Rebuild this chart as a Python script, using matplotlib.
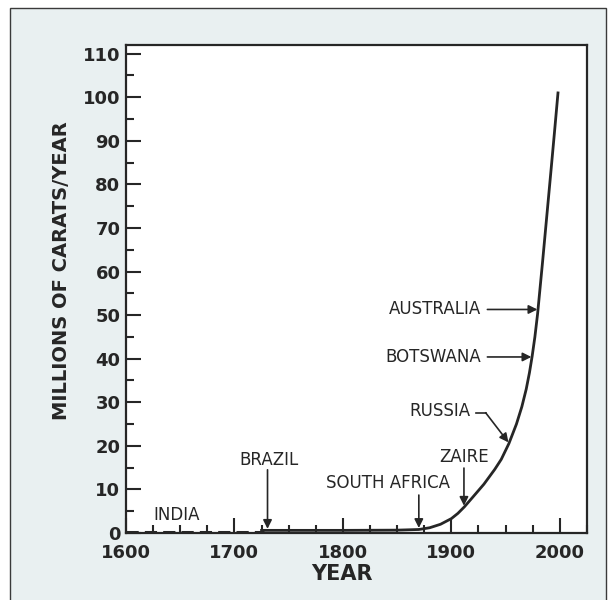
import numpy as np
import matplotlib
matplotlib.use("Agg")
import matplotlib.pyplot as plt
from matplotlib.patches import Rectangle
from matplotlib.ticker import MultipleLocator

# world diamond production, millions of carats per year
years = [1725, 1800, 1850, 1870, 1880, 1890, 1900, 1906, 1912, 1920, 1930,
         1940, 1946, 1953, 1960, 1965, 1969, 1972, 1974.5, 1977, 1979.5,
         1984, 1988, 1992, 1995, 1998.3]
carats = [0.6, 0.6, 0.65, 0.8, 1.2, 2.0, 3.3, 4.5, 6.0, 8.3, 11.2,
          14.6, 16.9, 20.5, 25.0, 29.0, 33.0, 36.8, 40.6, 45.0, 50.3,
          62.0, 72.8, 83.6, 91.8, 101.0]

# India period, drawn dashed along the baseline
india_years = [1600, 1727]
india_carats = [0.15, 0.15]

x_ticks = [1600, 1700, 1800, 1900, 2000]
y_ticks = list(range(0, 111, 10))

# (label, year of discovery) for the vertical arrows
vertical_notes = [("BRAZIL", 1730.5), ("SOUTH AFRICA", 1870.0), ("ZAIRE", 1911.6)]
# (label, production level) for the horizontal arrows
horizontal_notes = [("AUSTRALIA", 51.3), ("BOTSWANA", 40.4)]

ink = "#262626"

fig = plt.figure(figsize=(6.13, 6.0), dpi=100)
fig.patch.set_facecolor("white")
fig.add_artist(Rectangle((10 / 613, -0.01), 596 / 613, 1 - 8 / 600 + 0.01,
                         transform=fig.transFigure, facecolor="#e9f0f1",
                         edgecolor="#3a3a3a", lw=1.0, zorder=0))

ax = fig.add_axes([0.2055, 0.1117, 0.752, 0.8133])
ax.set_facecolor("white")

ax.plot(years, carats, color=ink, lw=2.0, solid_joinstyle="round", zorder=3)
ax.plot(india_years, india_carats, color=ink, lw=2.2, dashes=(4, 2), zorder=3)

ax.set_xlim(1600, 2025)
ax.set_ylim(0, 112)
ax.set_xticks(x_ticks)
ax.set_yticks(y_ticks)
ax.xaxis.set_minor_locator(MultipleLocator(25))
ax.yaxis.set_minor_locator(MultipleLocator(5))
ax.tick_params(which="both", direction="in", colors=ink, width=1.5)
ax.tick_params(which="major", length=11, labelsize=13)
ax.tick_params(which="minor", length=5.5)
ax.tick_params(axis="x", which="major", pad=8)
ax.tick_params(axis="y", which="major", pad=4)
for lab in ax.get_xticklabels() + ax.get_yticklabels():
    lab.set_fontweight("bold")
for side in ax.spines.values():
    side.set_linewidth(1.6)
    side.set_color(ink)

fig.text(341.7 / 613, 1 - 574 / 600, "YEAR", ha="center", va="center",
         fontsize=15, fontweight="bold", color=ink)
fig.text(62 / 613, 1 - 271 / 600, "MILLIONS OF CARATS/YEAR", rotation=90,
         ha="center", va="center", fontsize=14, fontweight="bold", color=ink)

note_size = 12
note_font = dict(fontsize=note_size, color=ink, ha="center", va="center")
arrow = dict(arrowstyle="-|>", color=ink, lw=1.2, mutation_scale=13,
             shrinkA=0, shrinkB=0)

ax.text(1646.8, 4.1, "INDIA", **note_font)

# vertical arrows down onto the curve
label_pos = {"BRAZIL": (1731.5, 16.8, 14.5),
             "SOUTH AFRICA": (1842.0, 11.4, 8.7),
             "ZAIRE": (1911.6, 17.4, 14.9)}
for name, yr in vertical_notes:
    tx, ty, top = label_pos[name]
    tip = np.interp(yr, years, carats) + 0.35
    ax.text(tx, ty, name, **note_font)
    ax.annotate("", xy=(yr, tip), xytext=(yr, top), arrowprops=arrow)

# horizontal arrows across to the curve (rising part only)
rise_years = years[3:]
rise_carats = carats[3:]
for name, level in horizontal_notes:
    tip = np.interp(level, rise_carats, rise_years) - 0.6
    ax.text(1927, level, name, fontsize=note_size, color=ink, ha="right",
            va="center")
    ax.annotate("", xy=(tip, level), xytext=(1933.2, level), arrowprops=arrow)

# Russia: short leader then a slanted arrow
russia_level = 20.5
russia_tip = np.interp(russia_level, rise_carats, rise_years)
ax.text(1917.8, 27.9, "RUSSIA", fontsize=note_size, color=ink, ha="right",
        va="center")
ax.plot([1922.5, 1931.6], [27.6, 27.6], color=ink, lw=1.2)
ax.annotate("", xy=(russia_tip - 0.4, russia_level + 0.3), xytext=(1931.6, 27.6),
            arrowprops=arrow)

fig.savefig("out.png", dpi=100, facecolor=fig.get_facecolor())
